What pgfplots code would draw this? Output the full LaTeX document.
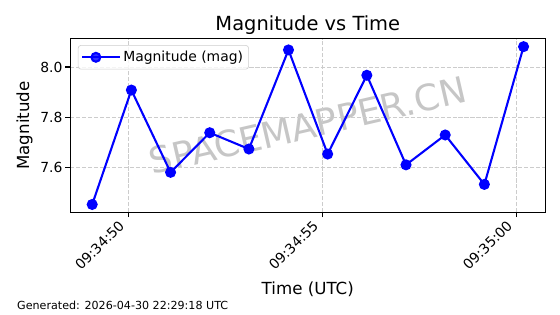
\documentclass[border=0pt]{standalone}
\usepackage{fontspec}
\setmainfont{DejaVu Sans}
\usepackage{pgfplots}
\pgfplotsset{compat=1.18}
\begin{document}
\begin{tikzpicture}
\path[use as bounding box] (-50.6pt,-73.2pt) rectangle (352.6pt,152.9pt);
\node[rotate=13, text=gray!45, font=\fontsize{26}{30}\selectfont] at (171pt,62.5pt) {SPACEMAPPER.CN};
\begin{axis}[
  at={(0,0)}, anchor=south west,
  scale only axis, width=342pt, height=125pt,
  xmin=48.505, xmax=60.75, ymin=7.4205, ymax=8.1125,
  xtick={50,55,60},
  xticklabels={09:34:50,09:34:55,09:35:00},
  ytick={7.6,7.8,8.0},
  /pgf/number format/assume math mode=true,
  yticklabel={\pgfmathprintnumber[fixed,fixed zerofill,precision=1]{\tick}},
  tick align=outside, tick pos=left,
  major tick length=3.5pt,
  every tick/.style={black, line width=0.8pt},
  axis line style={line width=0.8pt},
  tick label style={font=\fontsize{10}{12}\selectfont},
  xticklabel style={xshift=-7.5pt, rotate=45, anchor=north east, inner sep=1pt},
  yticklabel style={inner sep=2pt},
  grid=major,
  major grid style={gray!40, dash pattern=on 3pt off 1.3pt, line width=0.6pt},
  clip=false,
  legend style={at={(rel axis cs:0,1)}, anchor=north west, xshift=5.5pt, yshift=-4.6pt,
    draw=black!20, rounded corners=2pt, fill=white, fill opacity=0.8, text opacity=1,
    font=\fontsize{10}{12}\selectfont, inner sep=2pt},
  legend image code/.code={
    \path (0pt,0pt) -- (27pt,0pt);
    \draw[#1] (0pt,0pt) -- (20pt,0pt);
    \draw[#1, only marks] plot coordinates {(10pt,0pt)};
  },
]
\addplot[blue, line width=1.5pt, mark=*, mark size=3.2pt, mark options={solid, fill=blue, draw=blue}] coordinates {
(49.07,7.452) (50.08,7.908) (51.09,7.580) (52.10,7.738) (53.11,7.673) (54.13,8.068)
(55.14,7.653) (56.15,7.967) (57.16,7.610) (58.17,7.729) (59.18,7.532) (60.19,8.081)
};
\addlegendentry{Magnitude (mag)}
\node[anchor=base, font=\fontsize{14}{16}\selectfont] at ([yshift=5.6pt]rel axis cs:0.5,1) {Magnitude vs Time};
\node[anchor=base, font=\fontsize{12}{14}\selectfont] at ([yshift=-58.8pt]rel axis cs:0.5,0) {Time (UTC)};
\node[anchor=base, rotate=90, font=\fontsize{12}{14}\selectfont] at ([xshift=-29.7pt]rel axis cs:0,0.5) {Magnitude};
\node[anchor=base west, inner sep=0pt, font=\fontsize{8}{10}\selectfont] at ([xshift=-38.4pt, yshift=-69.8pt]rel axis cs:0,0) {Generated: 2026-04-30 22:29:18 UTC};
\end{axis}
\end{tikzpicture}
\end{document}
